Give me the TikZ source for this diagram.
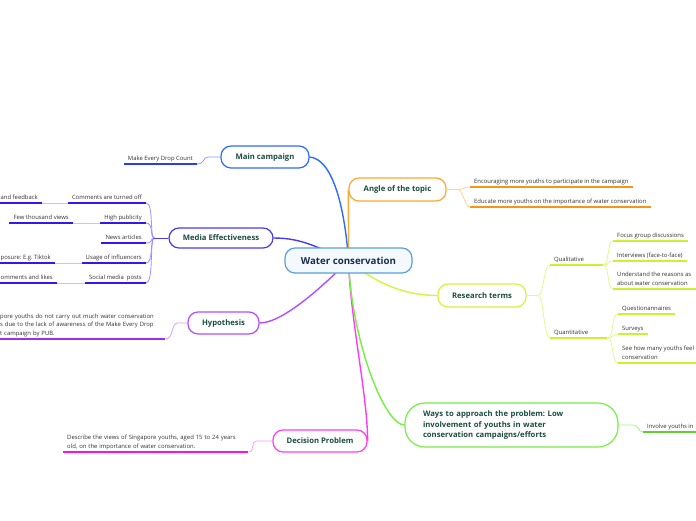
\documentclass[tikz,border=0pt]{standalone}
\usepackage{fontspec}
\setmainfont{Open Sans}
\frenchspacing
\usetikzlibrary{positioning,calc,backgrounds}
\definecolor{ink}{RGB}{51,51,51}
\definecolor{pine}{RGB}{27,77,62}
\definecolor{navytext}{RGB}{26,43,76}
\definecolor{sky}{RGB}{90,160,216}
\definecolor{skyfill}{RGB}{244,249,254}
\definecolor{royal}{RGB}{47,107,255}
\definecolor{royalleaf}{RGB}{40,60,240}
\definecolor{royallink}{RGB}{130,160,255}
\definecolor{tangerine}{RGB}{255,168,48}
\definecolor{tangerineleaf}{RGB}{245,150,20}
\definecolor{tangerinelink}{RGB}{255,210,150}
\definecolor{indigo}{RGB}{74,58,240}
\definecolor{indigoleaf}{RGB}{56,20,240}
\definecolor{indigolink}{RGB}{160,144,255}
\definecolor{indigopale}{RGB}{200,192,255}
\definecolor{grape}{RGB}{180,77,255}
\definecolor{grapeleaf}{RGB}{155,48,240}
\definecolor{grapelink}{RGB}{216,160,255}
\definecolor{fuchsia}{RGB}{255,60,240}
\definecolor{fuchsialeaf}{RGB}{255,16,224}
\definecolor{fuchsialink}{RGB}{255,153,245}
\definecolor{lime}{RGB}{119,238,68}
\definecolor{limeleaf}{RGB}{95,208,48}
\definecolor{limelink}{RGB}{170,240,136}
\definecolor{chartreuse}{RGB}{212,245,60}
\definecolor{chartreuseleaf}{RGB}{205,240,48}
\definecolor{chartreuselink}{RGB}{228,248,144}
\tikzset{
  central/.style={draw=sky,fill=skyfill,line width=1.2pt,rounded corners=10pt,
    font=\fontsize{9.7}{11}\selectfont\bfseries,text=navytext,
    minimum width=127pt,minimum height=25pt},
  topic/.style={draw=#1,fill=white,line width=1.2pt,rounded corners=10pt,
    font=\fontsize{7.7}{10.5}\selectfont\bfseries,text=pine,
    minimum height=22pt,inner xsep=8pt},
  leaf/.style={font=\fontsize{5.9}{8.5}\selectfont,text=ink,inner xsep=4pt,
    inner ysep=2pt,text depth=1.5pt,align=left},
  uline/.style={draw=#1,line width=1.5pt},
  link/.style={draw=#1,line width=0.8pt},
  branch/.style={draw=#1,line width=1.4pt},
}
\begin{document}
\begin{tikzpicture}[x=1pt,y=-1pt]
  \useasboundingbox (0,0) rectangle (696,520);
  \coordinate (lft) at (-5,0);
  \coordinate (rgt) at (701,0);
  % topics
  \node[central] (wc) at (348.5,260.5) {Water conservation};
  \node[topic=royal,minimum width=88pt] (mc) at (265,157) {Main campaign};
  \node[topic=tangerine,minimum width=97pt,minimum height=23pt] (ang) at (397.5,189.5) {Angle of the topic};
  \node[topic=indigo,minimum width=104pt,minimum height=20pt] (me) at (221,238) {Media Effectiveness};
  \node[topic=grape,minimum width=71pt] (hyp) at (223.5,323) {Hypothesis};
  \node[topic=fuchsia,minimum width=94pt] (dp) at (320,441) {Decision Problem};
  \node[topic=chartreuse,minimum width=88pt,minimum height=23pt] (rt) at (482,295.5) {Research terms};
  \node[topic=lime,rounded corners=20pt,text width=177pt,inner xsep=18pt,align=left,
    minimum height=44pt] (way) at (511.5,425)
    {Ways to approach the problem: Low\\involvement of youths in water\\conservation campaigns/efforts};
  % branches from the centre
  \begin{scope}[on background layer]
    \fill[white] (0,0) rectangle (696,520);
    \draw[branch=royal] (wc.center) .. controls +(-3,-45) and +(25,2) .. (mc.east);
    \draw[branch=tangerine] (wc.center) -- (ang.west);
    \draw[branch=indigo] (wc.center) .. controls +(-30,-12) and +(30,0) .. (me.east);
    \draw[branch=grape] (wc.center) .. controls +(-20,20) and +(25,0) .. (hyp.east);
    \draw[branch=fuchsia] (wc.center) .. controls +(2,60) and +(0,-45) .. (dp.east);
    \draw[branch=lime] (wc.center) .. controls +(3,80) and +(-20,0) .. (way.west);
    \draw[branch=chartreuse] (wc.center) .. controls +(30,25) and +(-30,0) .. (rt.west);
  \end{scope}
  % main campaign
  \node[leaf,anchor=south east] (mdc) at (197,164) {Make Every Drop Count};
  \draw[uline=royalleaf] (mdc.south west) -- (mdc.south east);
  \draw[link=royallink] (mdc.south east) .. controls +(8,0) and +(-6,0) .. ([xshift=-12pt]mc.west) -- (mc.west);
  % angle of the topic
  \node[leaf,anchor=south west] (enc) at (470,187) {Encouraging more youths to participate in the campaign};
  \node[leaf,anchor=south west] (edu) at (470,207) {Educate more youths on the importance of water conservation};
  \foreach \n in {enc,edu} {
    \draw[uline=tangerineleaf] (\n.south west) -- (\n.south east);
    \draw[link=tangerinelink] (ang.east) -- ([xshift=11pt]ang.east) .. controls +(6,0) and +(-6,0) .. (\n.south west);
  }
  % media effectiveness
  \foreach \n/\t/\y in {ct/Comments are turned off/203, hp/High publicity/223,
      na/News articles/243, ui/Usage of influencers/263, sm/Social media\ \ posts/283} {
    \node[leaf,anchor=south east] (\n) at (146,\y) {\t};
    \draw[uline=indigoleaf] (\n.south west) -- (\n.south east);
    \draw[link=indigolink] (\n.south east) .. controls +(8,0) and +(-5,0) .. ([xshift=-14pt]me.west);
  }
  \draw[link=indigo] ([xshift=-14pt]me.west) -- (me.west);
  \node[leaf,anchor=south west] (af) at (-3.5,203) {and feedback};
  \node[leaf,anchor=south east] (fv) at (73,223) {Few thousand views};
  \node[leaf,anchor=south west] (ex) at (-3.5,263) {posure: E.g. Tiktok};
  \node[leaf,anchor=south west] (cl) at (-3.5,283) {omments and likes};
  \draw[uline=indigoleaf] (af.south east -| lft) -- (af.south east);
  \draw[uline=indigoleaf] (fv.south west) -- (fv.south east);
  \draw[uline=indigoleaf] (ex.south east -| lft) -- (ex.south east);
  \draw[uline=indigoleaf] (cl.south east -| lft) -- (cl.south east);
  \draw[link=indigopale] (af.south east) -- (ct.south west);
  \draw[link=indigopale] (fv.south east) -- (hp.south west);
  \draw[link=indigopale] (ex.south east) -- (ui.south west);
  \draw[link=indigopale] (cl.south east) -- (sm.south west);
  % hypothesis
  \node[leaf,anchor=south west,text width=163pt,inner xsep=2pt,text depth=18.5pt] (hc) at (-2,339)
    {pore youths do not carry out much water conservation\\s due to the lack of awareness of the Make Every Drop\\t campaign by PUB.};
  \draw[uline=grapeleaf] (hc.south west) -- (hc.south east);
  \draw[link=grapelink] (hc.south east) .. controls +(8,0) and +(-6,0) .. ([xshift=-10pt]hyp.west) -- (hyp.west);
  % decision problem
  \node[leaf,anchor=south west,text width=177pt,text depth=10pt] (dc) at (63,452)
    {Describe the views of Singapore youths, aged 15 to 24 years\\old, on the importance of water conservation.};
  \draw[uline=fuchsialeaf] (dc.south west) -- (dc.south east);
  \draw[link=fuchsialink] (dc.south east) .. controls +(7,0) and +(-6,0) .. ([xshift=-16pt]dp.west) -- (dp.west);
  % research terms
  \node[leaf,anchor=south west,text width=45pt] (ql) at (550,265) {Qualitative};
  \node[leaf,anchor=south west,text width=49pt] (qn) at (550,338) {Quantitative};
  \foreach \n in {ql,qn} {
    \draw[uline=chartreuseleaf] (\n.south west) -- (\n.south east);
    \draw[link=chartreuselink] (rt.east) -- ([xshift=11pt]rt.east) .. controls +(7,0) and +(-7,0) .. (\n.south west);
  }
  \node[leaf,anchor=south west] (fg) at (613,241) {Focus group discussions};
  \node[leaf,anchor=south west] (iv) at (613,261) {Interviews (face-to-face)};
  \node[leaf,anchor=south west] (ur) at (613,289) {Understand the reasons as\\about water conservation};
  \node[leaf,anchor=south west] (qa) at (618,314) {Questionannaires};
  \node[leaf,anchor=south west] (sv) at (618,334) {Surveys};
  \node[leaf,anchor=south west] (sh) at (618,363) {See how many youths feel\\conservation};
  \foreach \n in {fg,iv} \draw[uline=chartreuseleaf] (\n.south west) -- (\n.south east);
  \foreach \n in {qa,sv} \draw[uline=chartreuseleaf] (\n.south west) -- (\n.south east);
  \foreach \n in {ur,sh} \draw[uline=chartreuseleaf] (\n.south west) -- (\n.south west -| rgt);
  \foreach \n in {fg,iv,ur}
    \draw[link=chartreuselink] (ql.south east) .. controls +(6,0) and +(-6,0) .. (\n.south west);
  \foreach \n in {qa,sv,sh}
    \draw[link=chartreuselink] (qn.south east) .. controls +(7,0) and +(-7,0) .. (\n.south west);
  % ways to approach
  \node[leaf,anchor=south west] (iy) at (643,432) {Involve youths in};
  \draw[uline=limeleaf] (iy.south west) -- (iy.south west -| rgt);
  \draw[link=limelink] (way.east) -- ([xshift=15pt]way.east) .. controls +(5,0) and +(-5,0) .. (iy.south west);
\end{tikzpicture}
\end{document}
